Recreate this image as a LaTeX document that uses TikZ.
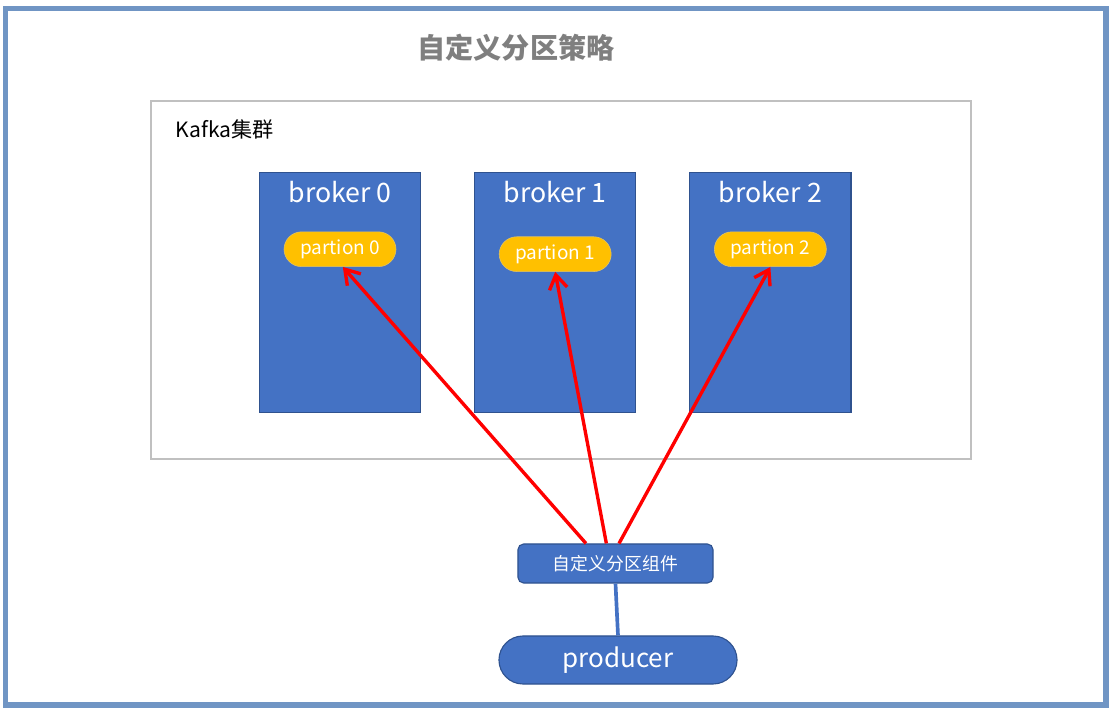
\documentclass[tikz,border=0pt]{standalone}
\usepackage{fontspec}
\setmainfont{Noto Sans CJK SC}
\newfontfamily\cjk{Noto Sans CJK SC}
\usepackage{xcolor}
\usepackage{tikz}
\usetikzlibrary{positioning,arrows.meta}

\definecolor{frameblue}{HTML}{7095C4}
\definecolor{boxblue}{HTML}{4472C4}
\definecolor{boxedge}{HTML}{2F528F}
\definecolor{partorange}{HTML}{FFC000}
\definecolor{titlegray}{HTML}{7F7F7F}
\definecolor{clustergray}{HTML}{C0C0C0}

\begin{document}
\begin{tikzpicture}[x=0.025cm, y=-0.025cm, node distance=1.32cm, >={Straight Barb[length=3.5mm,width=4.5mm]}]
    \tikzstyle{broker} = [draw=boxedge, fill=boxblue, line width=0.8pt, minimum width=4.03cm, minimum height=6.0cm, inner sep=0pt]
    \tikzstyle{btext} = [text=white, font=\cjk\fontsize{19}{22}\selectfont]
    \tikzstyle{part} = [draw=partorange!80!black!60, fill=partorange, rounded corners=0.44cm, minimum width=2.8cm, minimum height=0.87cm, text=white, font=\cjk\fontsize{13.5}{15}\selectfont]
    \tikzstyle{arrow} = [->, red, line width=2.4pt]

    \useasboundingbox (0,0) rectangle (1114,714);
    \draw[frameblue, line width=3.6pt] (5.5,8.5) rectangle (1106,705);

    \node[text=titlegray, font=\cjk\bfseries\fontsize{20}{24}\selectfont] (title) at (516,48) {自定义分区策略};

    % cluster
    \node[draw=clustergray, line width=1.1pt, minimum width=20.5cm, minimum height=8.95cm, inner sep=0pt] (cluster) at (561,280) {};
    \node[anchor=west, font=\cjk\fontsize{15}{18}\selectfont] (kafka) at (171,129) {Kafka集群};

    % brokers
    \node[broker] (b0) at (340,292.5) {};
    \node[broker, right=of b0] (b1) {};
    \node[broker, right=of b1] (b2) {};
    \node[btext] (b0t) at ([yshift=-14.5pt]b0.north) {broker 0};
    \node[btext] (b1t) at ([yshift=-14.5pt]b1.north) {broker 1};
    \node[btext] (b2t) at ([yshift=-14.5pt]b2.north) {broker 2};

    \node[part] (p0) at ([yshift=-55pt]b0.north) {partion 0};
    \node[part] (p1) at ([yshift=-58.5pt]b1.north) {partion 1};
    \node[part] (p2) at ([yshift=-55pt]b2.north) {partion 2};

    % producer side
    \node[draw=boxedge, fill=boxblue, rounded corners=4pt, line width=0.8pt, minimum width=4.875cm, minimum height=0.975cm, text=white, font=\cjk\fontsize{12.7}{15}\selectfont] (comp) at (615.5,563.5) {自定义分区组件};
    \node[draw=boxedge, fill=boxblue, rounded corners=0.6cm, line width=0.8pt, minimum width=5.95cm, minimum height=1.2cm, text=white, font=\cjk\fontsize{18.5}{22}\selectfont] (prod) at (618,660) {producer};

    \draw[boxblue, line width=2.6pt] (comp.south) -- (prod.north);

    \draw[arrow] ([xshift=-21pt]comp.north) -- ([xshift=2pt]p0.south);
    \draw[arrow] ([xshift=-6.5pt]comp.north) -- (p1.south);
    \draw[arrow] ([xshift=2.5pt]comp.north) -- (p2.south);
\end{tikzpicture}
\end{document}
